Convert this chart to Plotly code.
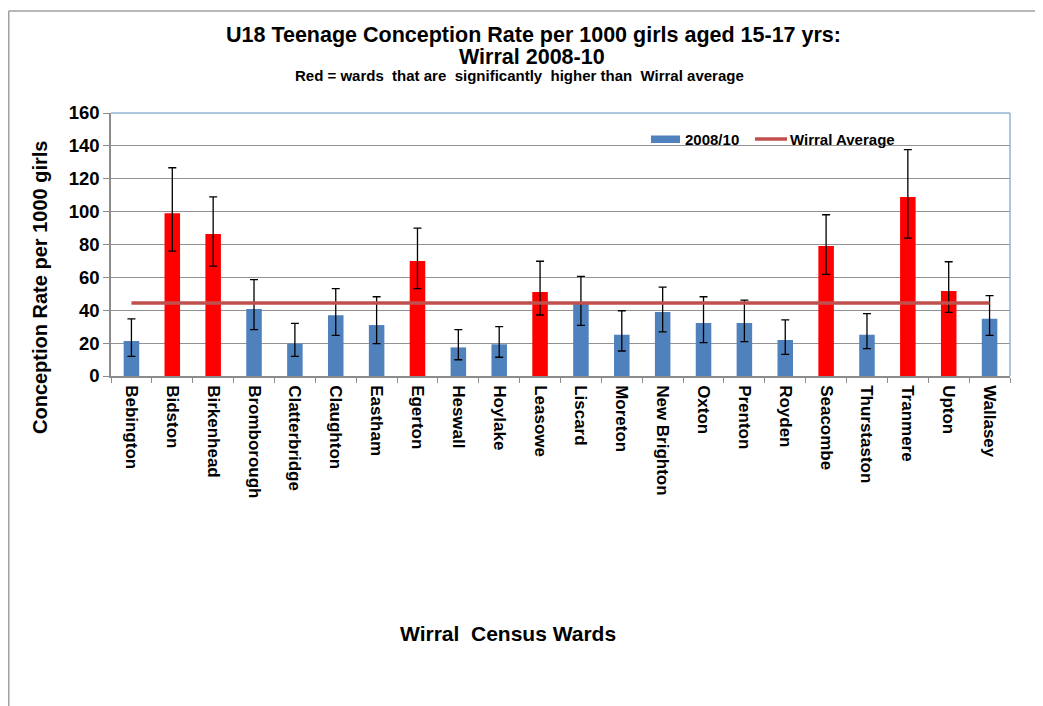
import plotly.graph_objects as go

wards = ["Bebington", "Bidston", "Birkenhead", "Bromborough", "Clatterbridge", "Claughton",
         "Eastham", "Egerton", "Heswall", "Hoylake", "Leasowe", "Liscard", "Moreton",
         "New Brighton", "Oxton", "Prenton", "Royden", "Seacombe", "Thurstaston",
         "Tranmere", "Upton", "Wallasey"]
rates = [21.3, 99.0, 86.4, 40.8, 19.7, 36.9, 31.0, 70.0, 17.4, 19.3, 51.1, 43.8, 25.1,
         38.9, 32.2, 32.2, 21.9, 79.1, 25.1, 108.9, 51.7, 34.9]
ci_upper = [34.7, 126.7, 109.0, 58.6, 32.0, 53.1, 48.2, 90.0, 28.2, 30.0, 69.8, 60.6, 39.7,
            54.1, 48.2, 46.2, 34.1, 98.1, 37.9, 137.7, 69.5, 48.9]
ci_lower = [12.0, 76.0, 66.9, 28.2, 12.0, 24.7, 19.7, 53.1, 9.9, 11.4, 37.1, 30.8, 15.2,
            26.8, 20.3, 20.9, 13.2, 61.8, 16.6, 83.9, 38.7, 24.7]
significant = [False, True, True, False, False, False, False, True, False, False, True, False,
               False, False, False, False, False, True, False, True, True, False]
wirral_average = 44.4

BLUE = "#4F81BD"
RED = "#FF0000"
AVG = "#C0504D"
FONT = "Liberation Sans, Arial, sans-serif"

# figure geometry (page body adds an 8px offset)
W, H = 1035, 698
L, R, T, B = 103, 33, 105, 330
PW, PH = W - L - R, H - T - B


def px(x):
    return (x - L) / PW


def py(y):
    return (H - B - y) / PH


err_plus = [u - r for u, r in zip(ci_upper, rates)]
err_minus = [r - l for r, l in zip(rates, ci_lower)]
colors = [RED if s else BLUE for s in significant]

fig = go.Figure()
fig.add_trace(go.Bar(
    x=wards, y=rates, name="2008/10",
    marker=dict(color=colors, line=dict(width=0)),
    width=0.38,
    error_y=dict(type="data", symmetric=False, array=err_plus, arrayminus=err_minus,
                 color="black", thickness=1.3, width=4),
))
fig.add_trace(go.Scatter(
    x=[wards[0], wards[-1]], y=[wirral_average, wirral_average],
    mode="lines", name="Wirral Average",
    line=dict(color=AVG, width=3.5),
))


def txt(text, x, y, size, xanchor="center", angle=0):
    return dict(text="<b>" + text + "</b>", xref="paper", yref="paper",
                x=px(x), y=py(y), xanchor=xanchor, yanchor="middle", showarrow=False,
                textangle=angle, font=dict(size=size, family=FONT, color="black"))


fig.update_layout(
    width=W, height=H,
    margin=dict(l=L, r=R, t=T, b=B, autoexpand=False),
    paper_bgcolor="white", plot_bgcolor="white",
    font=dict(family=FONT, color="black"),
    showlegend=False,
    xaxis=dict(
        tickangle=90, tickfont=dict(size=17, family=FONT, color="black", weight="bold"),
        showline=True, linecolor="#8C8C8C", linewidth=1.5,
        ticks="outside", tickson="boundaries", ticklen=5, tickcolor="#8C8C8C",
        ticklabelstandoff=4,
        showgrid=False, range=[-0.5, len(wards) - 0.5],
    ),
    yaxis=dict(
        range=[0, 160], dtick=20,
        tickfont=dict(size=18.5, family=FONT, color="black", weight="bold"),
        showline=True, linecolor="#8C8C8C", linewidth=1.5,
        ticks="outside", ticklen=6, tickcolor="#8C8C8C",
        showgrid=True, gridcolor="#939393", gridwidth=1,
        zeroline=False,
    ),
    annotations=[
        txt("U18 Teenage Conception Rate per 1000 girls aged 15-17 yrs:", 525, 27, 21.5),
        txt("Wirral 2008-10", 524, 49, 21.5),
        txt("Red = wards  that are  significantly  higher than  Wirral average", 511, 67, 15),
        txt("Wirral  Census Wards", 499.5, 625, 21),
        txt("Conception Rate per 1000 girls", 32, 280, 20, angle=-90),
        txt("2008/10", 675, 131, 15, xanchor="left"),
        txt("Wirral Average", 780, 131, 15, xanchor="left"),
    ],
    shapes=[
        # plot-area frame (top and right, light blue)
        dict(type="line", xref="paper", yref="paper", x0=0, x1=1, y0=1, y1=1,
             line=dict(color="#95B3D7", width=1.5), layer="above"),
        dict(type="line", xref="paper", yref="paper", x0=1, x1=1, y0=0, y1=1,
             line=dict(color="#95B3D7", width=1.5), layer="above"),
        # legend symbols
        dict(type="rect", xref="paper", yref="paper", x0=px(643), x1=px(672),
             y0=py(135), y1=py(127.5), fillcolor=BLUE, line=dict(width=0)),
        dict(type="line", xref="paper", yref="paper", x0=px(747), x1=px(779),
             y0=py(131), y1=py(131), line=dict(color=AVG, width=3.5)),
        # chart outer border (top and left)
        dict(type="line", xref="paper", yref="paper", x0=px(0.75), x1=px(W),
             y0=py(3), y1=py(3), line=dict(color="#A0A0A0", width=1.5)),
        dict(type="line", xref="paper", yref="paper", x0=px(0.75), x1=px(0.75),
             y0=py(3), y1=py(H), line=dict(color="#A0A0A0", width=1.5)),
    ],
)

fig.write_html("out.html")
